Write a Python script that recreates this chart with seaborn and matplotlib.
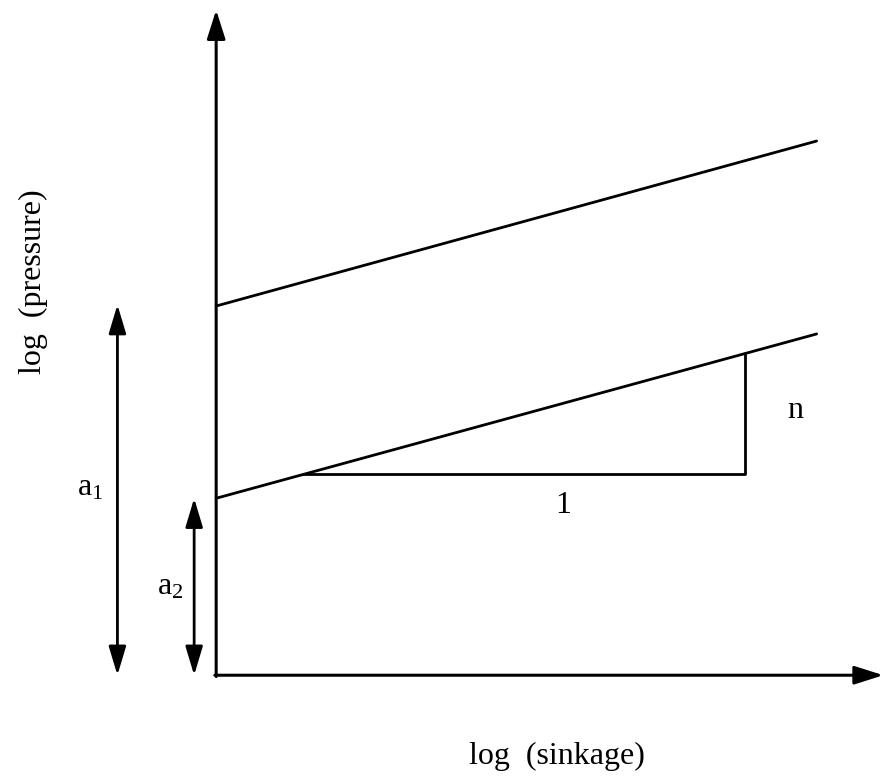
import matplotlib
matplotlib.use("Agg")
import matplotlib.pyplot as plt
import seaborn as sns
import pandas as pd

# ---- data (in log units) ----
line_x = [0.0, 9.0]
upper_y = [5.55, 8.03]          # intercept a1, slope n
lower_y = [2.66, 5.13]          # intercept a2, slope n
tri_x = [1.30, 7.93, 7.93]      # slope triangle
tri_y = [3.03, 3.03, 4.84]
a1_span = [0.0, 5.57]
a2_span = [0.0, 2.66]
axis_x_max = 10.0
axis_y_max = 10.0

sns.set_theme(style="white")
plt.rcParams['font.family'] = ['Liberation Serif', 'DejaVu Serif']
plt.rcParams['mathtext.fontset'] = 'custom'
plt.rcParams['mathtext.rm'] = 'Liberation Serif'
plt.rcParams['text.color'] = 'black'

fig = plt.figure(figsize=(8.86, 7.81), dpi=100)
ax = fig.add_axes([0, 0, 1, 1])
ax.set_xlim(-3.24, 10.04)
ax.set_ylim(-1.59, 10.15)
ax.axis('off')

df = pd.DataFrame({
    'x': line_x * 2,
    'y': upper_y + lower_y,
    'line': ['upper'] * 2 + ['lower'] * 2,
})
sns.lineplot(data=df, x='x', y='y', units='line', estimator=None,
             color='black', linewidth=2.0, ax=ax, legend=False)
sns.lineplot(x=tri_x, y=tri_y, sort=False, estimator=None,
             color='black', linewidth=2.0, ax=ax)

arrow_axis = dict(arrowstyle='-|>,head_length=1.1,head_width=0.35',
                  color='black', lw=2.2, shrinkA=0, shrinkB=0,
                  mutation_scale=16)
ax.annotate('', xy=(0, axis_y_max), xytext=(0, -0.02), arrowprops=arrow_axis)
ax.annotate('', xy=(axis_x_max, 0), xytext=(-0.02, 0), arrowprops=arrow_axis)

arrow_dbl = dict(arrowstyle='<|-|>,head_length=1.1,head_width=0.33',
                 color='black', lw=2.0, shrinkA=0, shrinkB=0,
                 mutation_scale=16)
ax.annotate('', xy=(-1.48, a1_span[1]), xytext=(-1.48, a1_span[0]), arrowprops=arrow_dbl)
ax.annotate('', xy=(-0.33, a2_span[1]), xytext=(-0.33, a2_span[0]), arrowprops=arrow_dbl)

fs = 23
tc = 'black'
ax.text(-1.89, 2.81, r'$\mathregular{a_1}$', fontsize=fs, ha='center', va='center', color=tc)
ax.text(-0.69, 1.33, r'$\mathregular{a_2}$', fontsize=fs, ha='center', va='center', color=tc)
ax.text(8.68, 3.98, 'n', fontsize=fs, ha='center', va='center', color=tc)
ax.text(5.20, 2.55, '1', fontsize=fs, ha='center', va='center', color=tc)
ax.text(-2.74, 5.92, 'log  (pressure)', fontsize=fs, rotation=90,
        ha='center', va='center', color=tc)
ax.text(5.11, -1.22, 'log  (sinkage)', fontsize=fs, ha='center', va='center', color=tc)

fig.savefig('out.png', dpi=100)
